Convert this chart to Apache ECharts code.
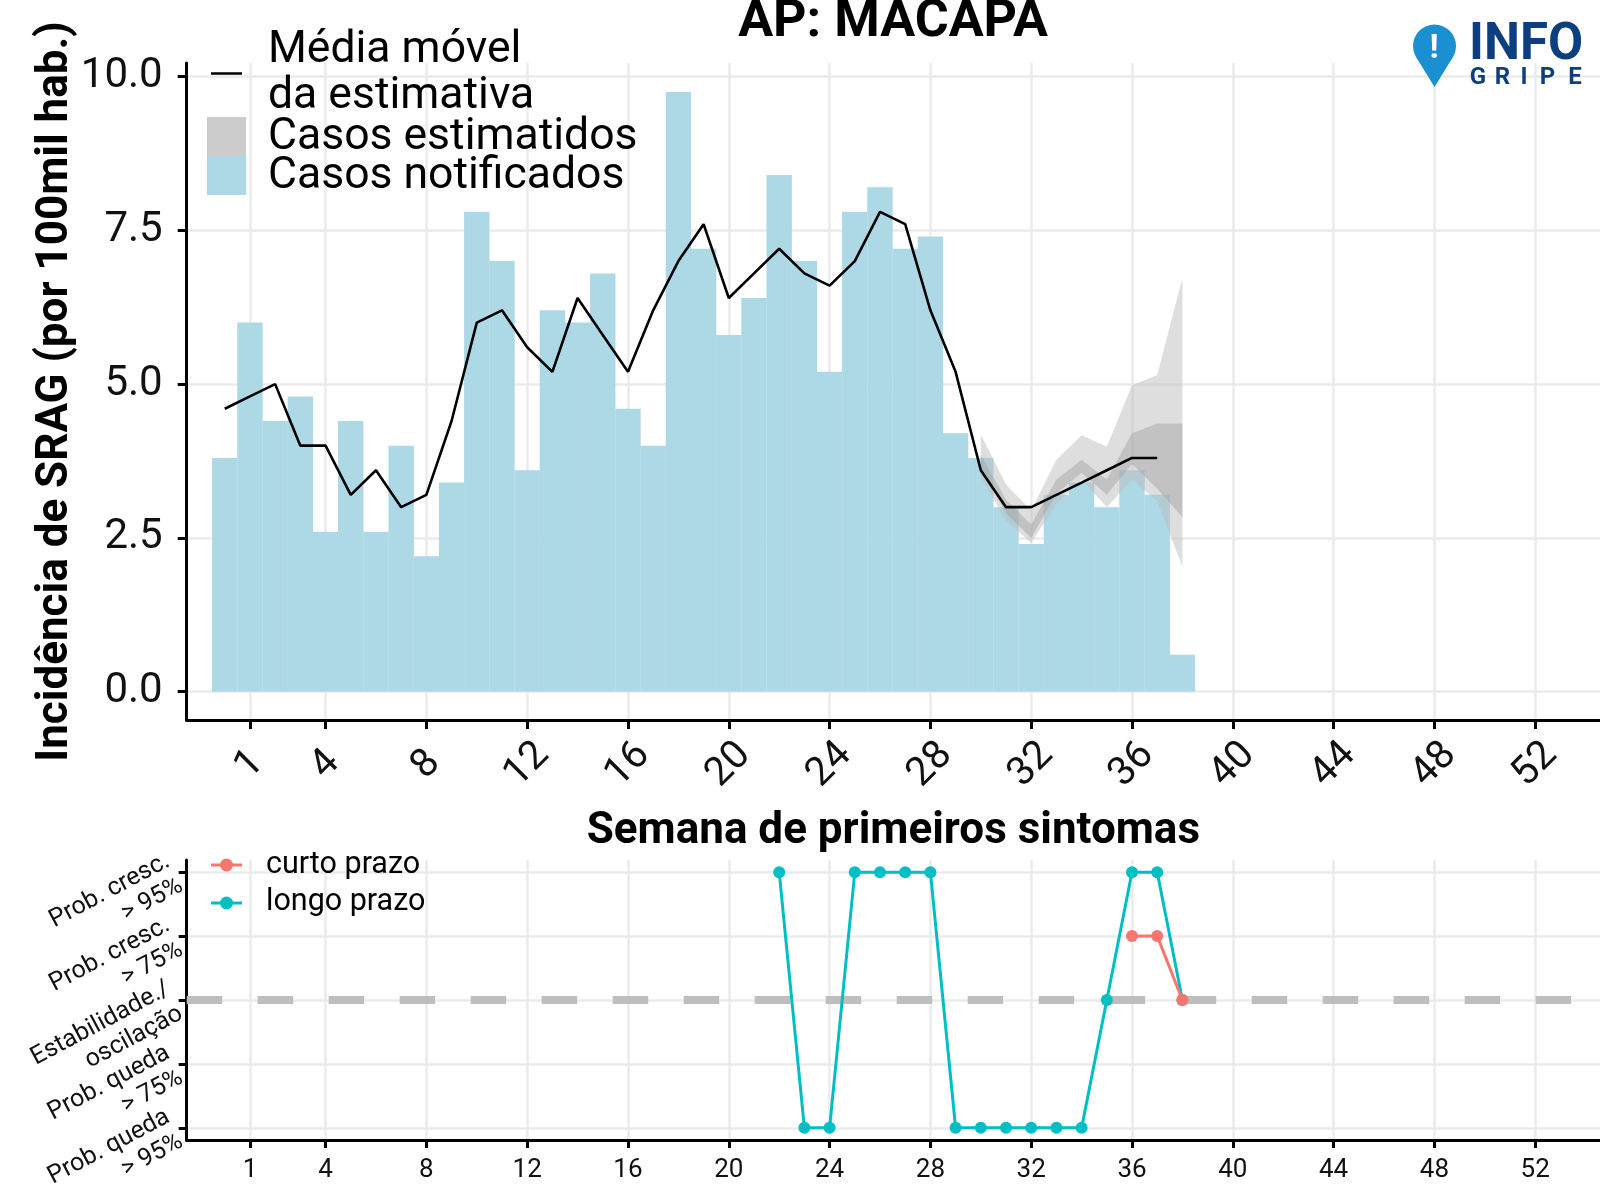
<!DOCTYPE html>
<html>
<head>
<meta charset="UTF-8">
<title>AP: MACAPA</title>
<script src="https://cdn.jsdelivr.net/npm/echarts@6/dist/echarts.min.js"></script>
<style>html, body { margin: 0; padding: 0; background: #fff; }</style>
</head>
<body>
<div id="main" style="width:1600px;height:1200px"></div>
<script>
// semanas epidemiologicas
var semanas = [0, 1, 2, 3, 4, 5, 6, 7, 8, 9, 10, 11, 12, 13, 14, 15, 16, 17, 18, 19,
    20, 21, 22, 23, 24, 25, 26, 27, 28, 29, 30, 31, 32, 33, 34, 35, 36, 37, 38];
var notificados = [3.8, 6.0, 4.4, 4.8, 2.6, 4.4, 2.6, 4.0, 2.2, 3.4, 7.8, 7.0, 3.6, 6.2, 6.0, 6.8, 4.6, 4.0, 9.75, 7.2,
    5.8, 6.4, 8.4, 7.0, 5.2, 7.8, 8.2, 7.2, 7.4, 4.2, 3.8, 3.0, 2.4, 3.2, 3.4, 3.0, 3.6, 3.2, 0.6];

var semanasMedia = [0, 1, 2, 3, 4, 5, 6, 7, 8, 9, 10, 11, 12, 13, 14, 15, 16, 17, 18, 19,
    20, 21, 22, 23, 24, 25, 26, 27, 28, 29, 30, 31, 32, 33, 34, 35, 36, 37];
var mediaMovel = [4.6, 4.8, 5.0, 4.0, 4.0, 3.2, 3.6, 3.0, 3.2, 4.4, 6.0, 6.2, 5.6, 5.2, 6.4, 5.8, 5.2, 6.2, 7.0, 7.6,
    6.4, 6.8, 7.2, 6.8, 6.6, 7.0, 7.8, 7.6, 6.2, 5.2, 3.6, 3.0, 3.0, 3.2, 3.4, 3.6, 3.8, 3.8];

// faixas da estimativa (nowcasting)
var semanasBanda = [30, 31, 32, 33, 34, 35, 36, 37, 38];
var extInf = [3.5, 2.78, 2.42, 3.05, 3.45, 3.0, 3.45, 3.1, 2.03];
var extSup = [4.18, 3.37, 2.95, 3.77, 4.17, 3.98, 4.98, 5.15, 6.72];
var intInf = [3.62, 2.9, 2.5, 3.22, 3.56, 3.2, 3.7, 3.3, 2.84];
var intSup = [3.85, 3.12, 2.72, 3.45, 3.77, 3.45, 4.2, 4.36, 4.36];

// tendencia (1 = queda >95% ... 5 = cresc. >95%)
var niveis = ['Prob. queda\n> 95%', 'Prob. queda\n> 75%', 'Estabilidade./\noscilação', 'Prob. cresc.\n> 75%', 'Prob. cresc.\n> 95%'];
var semanasLongo = [22, 23, 24, 25, 26, 27, 28, 29, 30, 31, 32, 33, 34, 35, 36, 37, 38];
var longoPrazo = [5, 1, 1, 5, 5, 5, 5, 1, 1, 1, 1, 1, 1, 3, 5, 5, 3];
var semanasCurto = [36, 37, 38];
var curtoPrazo = [4, 4, 3];

var xTicks = [1, 4, 8, 12, 16, 20, 24, 28, 32, 36, 40, 44, 48, 52];
var yTicks = [0, 2.5, 5, 7.5, 10];
var nivelTicks = [1, 2, 3, 4, 5];

var X_MIN = -1.51, X_MAX = 54.57;
var FONTE = 'Roboto';
var GRADE = { show: true, lineStyle: { color: '#ebebeb', width: 2.5 } };
var EIXO = { show: true, onZero: false, lineStyle: { color: '#000', width: 3 } };

function pares(xs, ys) {
    return xs.map(function (x, i) { return [x, ys[i]]; });
}

// faixa entre limite inferior e superior, desenhada como um poligono
function faixa(nome, xs, inf, sup, cor) {
    return {
        name: nome, type: 'custom', xAxisIndex: 0, yAxisIndex: 0, silent: true, z: 3,
        data: xs.map(function (x, i) { return [x, inf[i], sup[i]]; }),
        encode: { x: 0, y: [1, 2] },
        renderItem: function (params, api) {
            if (params.dataIndex !== 0) return null;
            var pts = [];
            for (var i = 0; i < xs.length; i++) pts.push(api.coord([xs[i], sup[i]]));
            for (var j = xs.length - 1; j >= 0; j--) pts.push(api.coord([xs[j], inf[j]]));
            return { type: 'polygon', shape: { points: pts }, style: { fill: cor } };
        }
    };
}

var myChart = echarts.init(document.getElementById('main'));

function texto(x, y, t, font, extra) {
    var el = { type: 'text', x: x, y: y, z: 100,
        style: { text: t, font: font, fill: '#000', textAlign: 'left', textVerticalAlign: 'middle' } };
    if (extra) for (var k in extra) el.style[k] = extra[k];
    return el;
}

var option = {
    animation: false,
    backgroundColor: '#fff',
    grid: [
        { left: 186.7, right: 0, top: 63, height: 657, outerBoundsMode: 'none' },
        { left: 186.7, right: 0, top: 860, height: 280, outerBoundsMode: 'none' }
    ],
    xAxis: [{
        gridIndex: 0, type: 'value', min: X_MIN, max: X_MAX,
        name: 'Semana de primeiros sintomas', nameLocation: 'middle', nameGap: 90, nameMoveOverlap: false,
        nameTextStyle: { fontFamily: FONTE, fontWeight: 'bold', fontSize: 44, color: '#000' },
        axisLine: EIXO,
        axisTick: { show: true, length: 9, lineStyle: { color: '#000', width: 3 }, customValues: xTicks },
        axisLabel: {
            customValues: xTicks, rotate: 45, align: 'center', verticalAlign: 'middle', margin: 45,
            fontFamily: FONTE, fontSize: 40, color: '#111'
        },
        splitLine: GRADE
    }, {
        gridIndex: 1, type: 'value', min: X_MIN, max: X_MAX,
        axisLine: EIXO,
        axisTick: { show: true, length: 8, lineStyle: { color: '#000', width: 3 }, customValues: xTicks },
        axisLabel: { customValues: xTicks, margin: 17, fontFamily: FONTE, fontSize: 26, color: '#111' },
        splitLine: GRADE
    }],
    yAxis: [{
        gridIndex: 0, type: 'value', min: -0.46, max: 10.22,
        name: 'Incidência de SRAG (por 100mil hab.)', nameLocation: 'middle', nameRotate: 90, nameGap: 109,
        nameMoveOverlap: false,
        nameTextStyle: { fontFamily: FONTE, fontWeight: 'bold', fontSize: 44, color: '#000' },
        axisLine: EIXO,
        axisTick: { show: true, length: 9, lineStyle: { color: '#000', width: 3 }, customValues: yTicks },
        axisLabel: {
            customValues: yTicks, margin: 24, fontFamily: FONTE, fontSize: 42, color: '#111',
            formatter: function (v) { return v.toFixed(1); }
        },
        splitLine: GRADE
    }, {
        gridIndex: 1, type: 'value', min: 0.81, max: 5.19,
        axisLine: EIXO,
        axisTick: { show: true, length: 8, lineStyle: { color: '#000', width: 3 }, customValues: nivelTicks },
        axisLabel: {
            customValues: nivelTicks, rotate: 28, margin: 12, fontFamily: FONTE, fontSize: 25, lineHeight: 28,
            color: '#111',
            formatter: function (v) { return niveis[Math.round(v) - 1]; }
        },
        splitLine: GRADE
    }],
    series: [
        {
            name: 'Casos notificados', type: 'bar', xAxisIndex: 0, yAxisIndex: 0,
            data: pares(semanas, notificados), barWidth: 25.4,
            itemStyle: { color: '#ADD8E6' }, silent: true
        },
        faixa('Casos estimatidos', semanasBanda, extInf, extSup, 'rgba(190,190,190,0.5)'),
        faixa('Casos estimatidos (50%)', semanasBanda, intInf, intSup, 'rgba(165,165,165,0.5)'),
        {
            name: 'Média móvel da estimativa', type: 'line', xAxisIndex: 0, yAxisIndex: 0, z: 4,
            data: pares(semanasMedia, mediaMovel), symbol: 'none',
            lineStyle: { color: '#000', width: 2.6 }, silent: true
        },
        {
            name: 'longo prazo', type: 'line', xAxisIndex: 1, yAxisIndex: 1,
            data: pares(semanasLongo, longoPrazo), symbol: 'circle', symbolSize: 12,
            itemStyle: { color: '#00BFC4' }, lineStyle: { color: '#00BFC4', width: 3 }, silent: true,
            markLine: {
                z: 1, silent: true, symbol: 'none', label: { show: false },
                lineStyle: { color: '#bebebe', width: 8, type: [35.5, 35.5] },
                data: [{ yAxis: 3 }]
            }
        },
        {
            name: 'curto prazo', type: 'line', xAxisIndex: 1, yAxisIndex: 1,
            data: pares(semanasCurto, curtoPrazo), symbol: 'circle', symbolSize: 12,
            itemStyle: { color: '#F8766D' }, lineStyle: { color: '#F8766D', width: 3 }, silent: true
        }
    ],
    graphic: [
        // titulo
        texto(893, 23, 'AP: MACAPA', 'bold 52px Roboto', { textAlign: 'center' }),
        // legenda superior
        { type: 'line', z: 100, shape: { x1: 211, y1: 73.5, x2: 242, y2: 73.5 }, style: { stroke: '#000', lineWidth: 2.5 } },
        texto(268, 51, 'Média móvel', '44.5px Roboto'),
        texto(268, 97, 'da estimativa', '44.5px Roboto'),
        { type: 'rect', z: 100, shape: { x: 207, y: 117, width: 39, height: 39 }, style: { fill: '#cccccc' } },
        texto(268, 138, 'Casos estimatidos', '44.5px Roboto'),
        { type: 'rect', z: 100, shape: { x: 207, y: 156, width: 39, height: 39 }, style: { fill: '#ADD8E6' } },
        texto(268, 177, 'Casos notificados', '44.5px Roboto'),
        // legenda inferior
        { type: 'line', z: 100, shape: { x1: 211, y1: 865, x2: 242, y2: 865 }, style: { stroke: '#F8766D', lineWidth: 3 } },
        { type: 'circle', z: 100, shape: { cx: 226.5, cy: 865, r: 6.5 }, style: { fill: '#F8766D' } },
        texto(266, 865, 'curto prazo', '30.5px Roboto'),
        { type: 'line', z: 100, shape: { x1: 211, y1: 903, x2: 242, y2: 903 }, style: { stroke: '#00BFC4', lineWidth: 3 } },
        { type: 'circle', z: 100, shape: { cx: 226.5, cy: 903, r: 6.5 }, style: { fill: '#00BFC4' } },
        texto(266, 902, 'longo prazo', '30.5px Roboto'),
        // logo InfoGripe
        { type: 'circle', z: 100, shape: { cx: 1434.5, cy: 46, r: 21.5 }, style: { fill: '#1a8fd1' } },
        { type: 'polygon', z: 100, shape: { points: [[1416.2, 57.3], [1452.8, 57.3], [1434.5, 87]] }, style: { fill: '#1a8fd1' } },
        texto(1434, 49, '!', 'bold 34px Roboto', { fill: '#fff', textAlign: 'center' }),
        texto(1469, 46, 'INFO', 'bold 51px Roboto', { fill: '#0d3f80' }),
        texto(1478, 78, 'G', 'bold 24px Roboto', { fill: '#0d3f80', textAlign: 'center' }),
        texto(1502.5, 78, 'R', 'bold 24px Roboto', { fill: '#0d3f80', textAlign: 'center' }),
        texto(1524, 78, 'I', 'bold 24px Roboto', { fill: '#0d3f80', textAlign: 'center' }),
        texto(1547.5, 78, 'P', 'bold 24px Roboto', { fill: '#0d3f80', textAlign: 'center' }),
        texto(1575, 78, 'E', 'bold 24px Roboto', { fill: '#0d3f80', textAlign: 'center' })
    ]
};

myChart.setOption(option);
</script>
</body>
</html>
